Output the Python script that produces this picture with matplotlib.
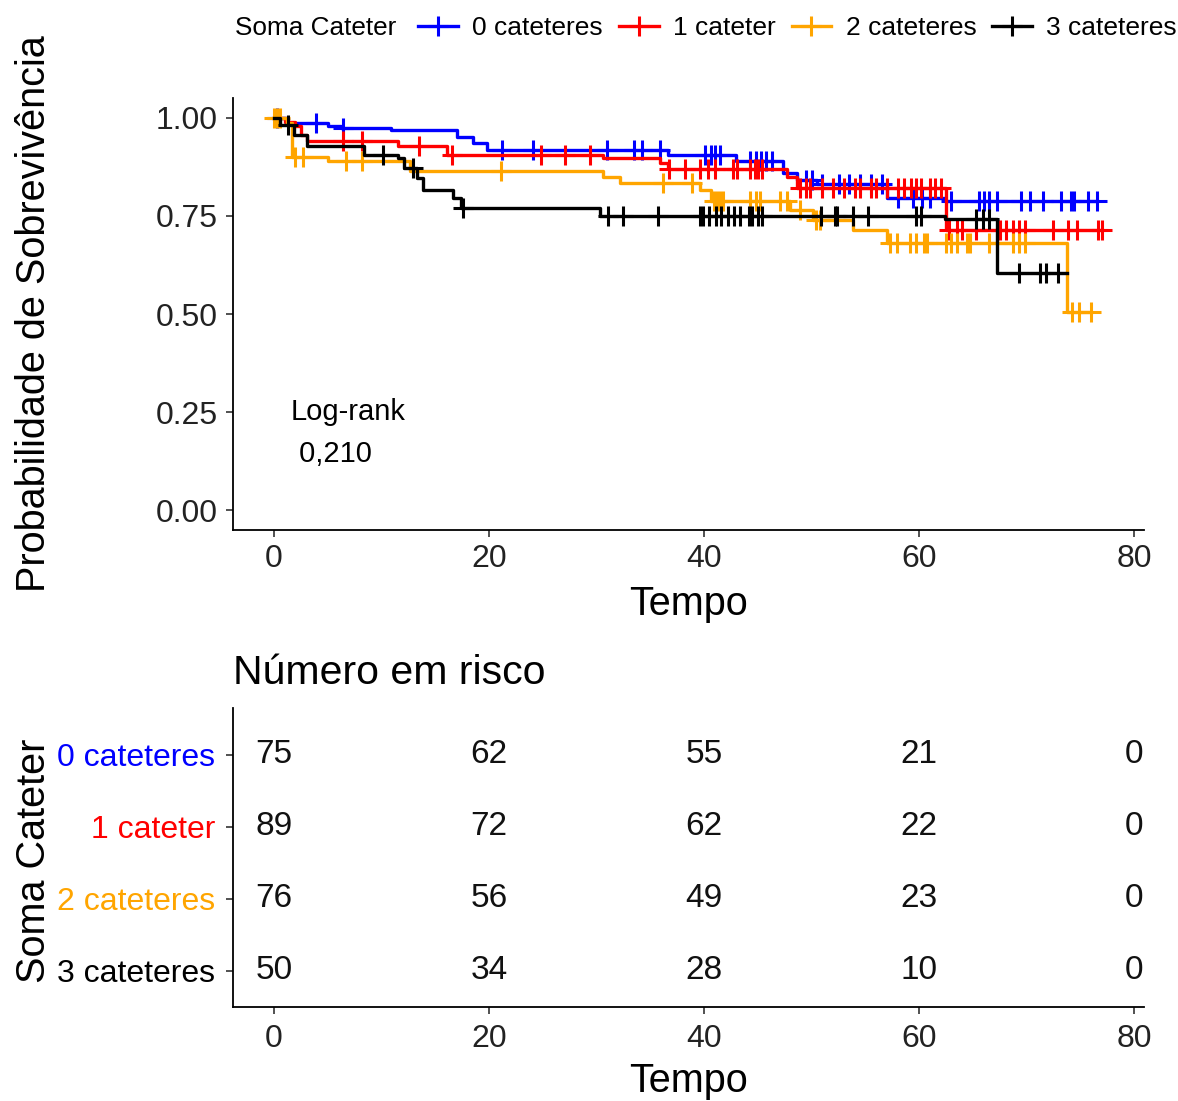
import numpy as np
import matplotlib
matplotlib.use('Agg')
import matplotlib.pyplot as plt
from matplotlib.lines import Line2D

plt.rcParams['font.family'] = ['Liberation Sans', 'DejaVu Sans']

groups = ['0 cateteres', '1 cateter', '2 cateteres', '3 cateteres']
colors = ['#0000FF', '#FF0000', '#FFA500', '#000000']

# Kaplan-Meier steps: event times and survival after each step
t0_events = [1.3, 5.0, 6.2, 10.9, 17.0, 18.5, 19.8, 36.6, 43.0, 47.3, 48.6, 50.5, 57.0, 62.4]
s0_events = [0.987, 0.978, 0.974, 0.969, 0.950, 0.935, 0.918, 0.906, 0.889, 0.860, 0.842, 0.830, 0.796, 0.789]
t0_cens = [0.3, 3.9, 6.4, 21.2, 24.1, 31.0, 33.5, 34.2, 35.9, 40.1, 40.6, 41.0, 41.5, 44.3, 44.8,
           45.3, 45.8, 46.3, 49.5, 50.0, 51.0, 52.5, 53.5, 54.5, 55.5, 56.5, 58.0, 59.4, 60.3, 61.0,
           63.0, 65.6, 66.0, 66.5, 67.2, 69.5, 70.3, 71.5, 73.2, 74.1, 74.4, 75.7, 76.5]
t0_end = 76.5

t1_events = [1.0, 2.0, 2.5, 3.1, 11.5, 16.1, 30.6, 35.9, 36.6, 47.7, 48.6, 62.5]
s1_events = [0.989, 0.978, 0.955, 0.940, 0.927, 0.906, 0.898, 0.885, 0.868, 0.850, 0.822, 0.715]
t1_cens = [6.4, 8.2, 13.5, 16.6, 24.8, 27.1, 29.4, 36.7, 38.2, 39.6, 40.4, 41.0, 42.7, 43.1, 44.3,
           44.7, 45.0, 45.4, 48.9, 49.5, 49.8, 51.0, 52.0, 53.0, 54.0, 54.5, 55.5, 56.0, 57.0, 58.0,
           58.6, 59.2, 59.7, 60.2, 61.0, 61.5, 62.0, 62.8, 63.5, 64.0, 65.3, 67.5, 68.1, 68.7, 69.3,
           69.8, 72.4, 73.8, 74.7, 76.6, 77.0]
t1_end = 77.0

t2_events = [1.2, 1.7, 5.0, 12.7, 30.6, 32.2, 39.6, 40.6, 48.0, 50.1, 53.8, 57.0, 73.7]
s2_events = [0.987, 0.900, 0.889, 0.863, 0.850, 0.834, 0.817, 0.787, 0.766, 0.740, 0.715, 0.682, 0.505]
t2_cens = [0.0, 0.3, 0.6, 2.0, 2.7, 6.7, 8.2, 21.1, 36.2, 38.9, 40.9, 41.2, 41.5, 41.8, 44.3, 44.8,
           45.2, 47.1, 47.7, 48.9, 50.4, 50.8, 57.3, 57.9, 59.1, 59.7, 60.4, 60.7, 62.5, 63.0, 63.5,
           64.4, 64.7, 66.5, 67.2, 68.7, 69.3, 69.8, 74.2, 74.9, 76.0]
t2_end = 76.0

t3_events = [0.6, 1.9, 3.1, 8.4, 11.5, 12.1, 13.3, 13.9, 16.7, 17.4, 30.3, 62.4, 67.2]
s3_events = [0.980, 0.957, 0.927, 0.906, 0.898, 0.873, 0.847, 0.817, 0.796, 0.771, 0.749, 0.741, 0.605]
t3_cens = [1.3, 10.1, 12.9, 17.6, 31.1, 32.5, 35.7, 39.6, 39.9, 40.5, 41.1, 41.6, 42.2, 42.8, 43.3,
           44.2, 44.5, 45.0, 45.4, 50.9, 52.2, 52.4, 53.8, 55.2, 59.7, 60.2, 65.3, 65.9, 66.5, 69.3,
           71.2, 71.8, 72.9]
t3_end = 73.7

# numbers at risk
risk_times = [0, 20, 40, 60, 80]
risk_0 = [75, 62, 55, 21, 0]
risk_1 = [89, 72, 62, 22, 0]
risk_2 = [76, 56, 49, 23, 0]
risk_3 = [50, 34, 28, 10, 0]

curves = [
    (t0_events, s0_events, t0_cens, t0_end),
    (t1_events, s1_events, t1_cens, t1_end),
    (t2_events, s2_events, t2_cens, t2_end),
    (t3_events, s3_events, t3_cens, t3_end),
]
risks = [risk_0, risk_1, risk_2, risk_3]

W, H = 1178, 1101
fig = plt.figure(figsize=(W / 100, H / 100), dpi=100)

def box(left, top, right, bottom):
    return [left / W, 1 - bottom / H, (right - left) / W, (bottom - top) / H]

ax = fig.add_axes(box(233, 98, 1144, 530))
for (et, es, ct, end), col in zip(curves, colors):
    t = [0] + et + [end]
    s = [1.0] + es + [es[-1]]
    ax.step(t, s, where='post', color=col, lw=2.4)
    levels = np.array([1.0] + es)
    cy = levels[np.searchsorted(et, ct, side='right')]
    ax.plot(ct, cy, ls='none', marker='+', ms=14, mew=2.2, color=col)

ax.set_xlim(-3.8, 80.9)
ax.set_ylim(-0.05, 1.05)
ax.set_xticks([0, 20, 40, 60, 80])
ax.set_yticks([0, 0.25, 0.5, 0.75, 1.0])
ax.set_yticklabels(['0.00', '0.25', '0.50', '0.75', '1.00'])
for sp in ['top', 'right']:
    ax.spines[sp].set_visible(False)
for sp in ['left', 'bottom']:
    ax.spines[sp].set_linewidth(1.3)
ax.tick_params(labelsize=23, length=5, width=1.2, colors='#333333', labelcolor='#222222')
ax.tick_params(axis='y', pad=6)
ax.tick_params(axis='x', pad=5)
ax.set_xlabel('Tempo', fontsize=28.5)
ax.xaxis.set_label_coords(0.5, -0.128)
ax.set_ylabel('Probabilidade de Sobrevivência', fontsize=28.5)
ax.yaxis.set_label_coords(-0.198, 0.5)
ax.text(1.6, 0.197, 'Log-rank\n 0,210', fontsize=21, ha='left', va='center', linespacing=1.65)

# legend across the top
fig.text(235 / W, 1 - 28 / H, 'Soma Cateter', fontsize=18.8, ha='left', va='center')
handles = [Line2D([], [], color=c, lw=2.4, marker='+', ms=15, mew=2.2) for c in colors]
fig.legend(handles, groups, loc='center right', bbox_to_anchor=(1177 / W, 1 - 28 / H),
           ncol=4, frameon=False, fontsize=19, handlelength=1.5, handletextpad=0.55,
           columnspacing=0.6, borderpad=0, borderaxespad=0, numpoints=1)

# risk table
ax2 = fig.add_axes(box(233, 708, 1144, 1007))
ypos = [4, 3, 2, 1]
for yp, r in zip(ypos, risks):
    for xt, n in zip(risk_times, r):
        ax2.text(xt, yp, str(n), fontsize=24, ha='center', va='center', color='#111111')
ax2.set_xlim(-3.8, 80.9)
ax2.set_ylim(0.50, 4.652)
ax2.set_xticks([0, 20, 40, 60, 80])
ax2.set_yticks(ypos)
ax2.set_yticklabels(groups)
for sp in ['top', 'right']:
    ax2.spines[sp].set_visible(False)
for sp in ['left', 'bottom']:
    ax2.spines[sp].set_linewidth(1.3)
ax2.tick_params(labelsize=23, length=5, width=1.2, colors='#333333', labelcolor='#222222')
ax2.tick_params(axis='y', pad=8)
ax2.tick_params(axis='x', pad=7)
for lab, col in zip(ax2.get_yticklabels(), colors):
    lab.set_color(col)
ax2.set_xlabel('Tempo', fontsize=28.5)
ax2.xaxis.set_label_coords(0.5, -0.185)
ax2.set_ylabel('Soma Cateter', fontsize=28.5)
ax2.yaxis.set_label_coords(-0.198, 0.49)
ax2.text(0, 1.08, 'Número em risco', fontsize=29.5, transform=ax2.transAxes, ha='left', va='baseline')

fig.savefig('out.png', dpi=100)
